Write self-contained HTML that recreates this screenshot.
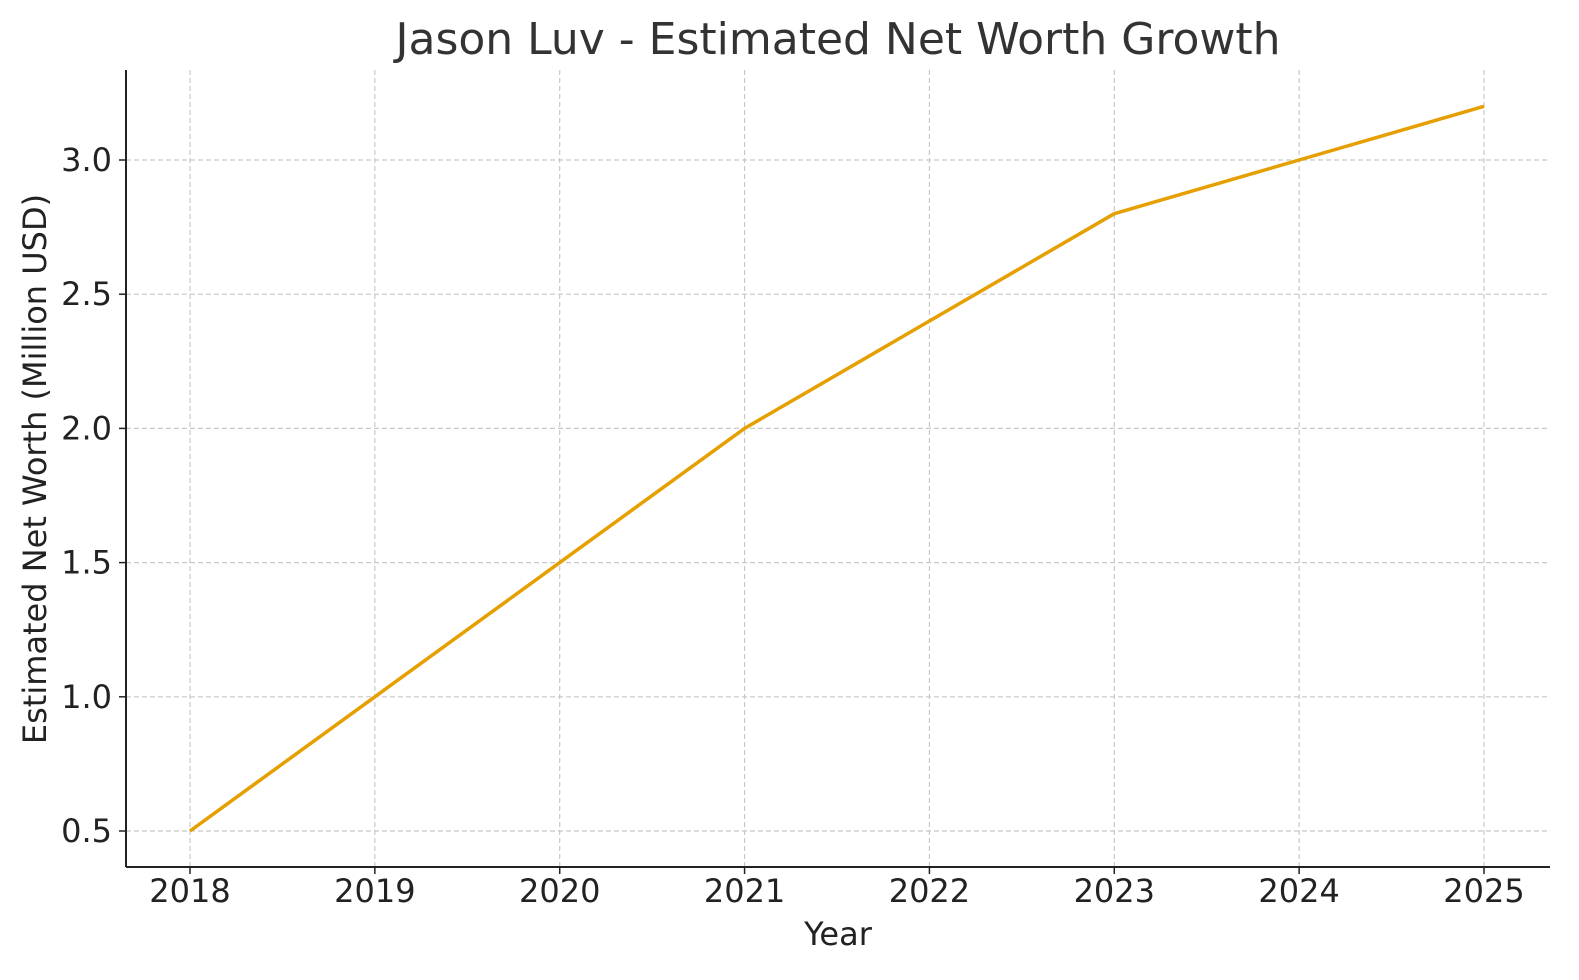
<!DOCTYPE html>
<html><head><meta charset="utf-8"><style>
html,body{margin:0;padding:0;background:#fff;}
svg{display:block;font-family:"DejaVu Sans","Liberation Sans",sans-serif;}
</style></head><body>
<svg id="chart" width="1579" height="980" viewBox="0 0 1579 980">
<text x="838" y="54" text-anchor="middle" font-size="44" fill="#333">Jason Luv - Estimated Net Worth Growth</text>
<g id="grid"></g>
<g id="ticks"></g>
<line x1="126" y1="70" x2="126" y2="867" stroke="#222" stroke-width="2"/>
<line x1="126" y1="867" x2="1550" y2="867" stroke="#222" stroke-width="2"/>
<polyline id="line" fill="none" stroke="#E69F00" stroke-width="3.5" stroke-linejoin="round"/>
<text x="838" y="945" text-anchor="middle" font-size="32" fill="#222">Year</text>
<text transform="translate(46,469) rotate(-90)" text-anchor="middle" font-size="32" fill="#222">Estimated Net Worth (Million USD)</text>
</svg>
<script>
const years = [2018, 2019, 2020, 2021, 2022, 2023, 2024, 2025];
const netWorth = [0.5, 1.0, 1.5, 2.0, 2.4, 2.8, 3.0, 3.2];
const yTicks = [0.5, 1.0, 1.5, 2.0, 2.5, 3.0];
const yTickLabels = ["0.5", "1.0", "1.5", "2.0", "2.5", "3.0"];

const NS = "http://www.w3.org/2000/svg";
function xScale(v){ return 190 + (v - 2018) * (1484 - 190) / 7; }
function yScale(v){ return 831 - (v - 0.5) * (831 - 160) / 2.5; }
const grid = document.getElementById('grid');
const ticks = document.getElementById('ticks');
function mk(tag, attrs, parent){ const e = document.createElementNS(NS, tag); for (const k in attrs) e.setAttribute(k, attrs[k]); parent.appendChild(e); return e; }
years.forEach(y => {
  const x = xScale(y);
  const g = mk('line', {x1:x, y1:70, x2:x, y2:867, stroke:'#c8c8c8', 'stroke-width':1.2, 'stroke-dasharray':'5,3'}, grid);
  
  
  const t = mk('line', {x1:x, y1:867, x2:x, y2:874, stroke:'#222', 'stroke-width':1.5}, ticks);
  
  
  const l = mk('text', {x:x, y:902, 'text-anchor':'middle', 'font-size':32, fill:'#222'}, ticks);
  l.textContent = y;
  
  
});
yTicks.forEach((v, i) => {
  const y = yScale(v);
  const g = mk('line', {x1:126, y1:y, x2:1550, y2:y, stroke:'#c8c8c8', 'stroke-width':1.2, 'stroke-dasharray':'5,3'}, grid);
  
  
  const t = mk('line', {x1:119, y1:y, x2:126, y2:y, stroke:'#222', 'stroke-width':1.5}, ticks);
  
  
  const l = mk('text', {x:112, y:y + 11, 'text-anchor':'end', 'font-size':32, fill:'#222'}, ticks);
  l.textContent = yTickLabels[i];
  
  
});
document.getElementById('line').setAttribute('points', years.map((y, i) => xScale(y) + ',' + yScale(netWorth[i])).join(' '));
</script>
</body></html>
